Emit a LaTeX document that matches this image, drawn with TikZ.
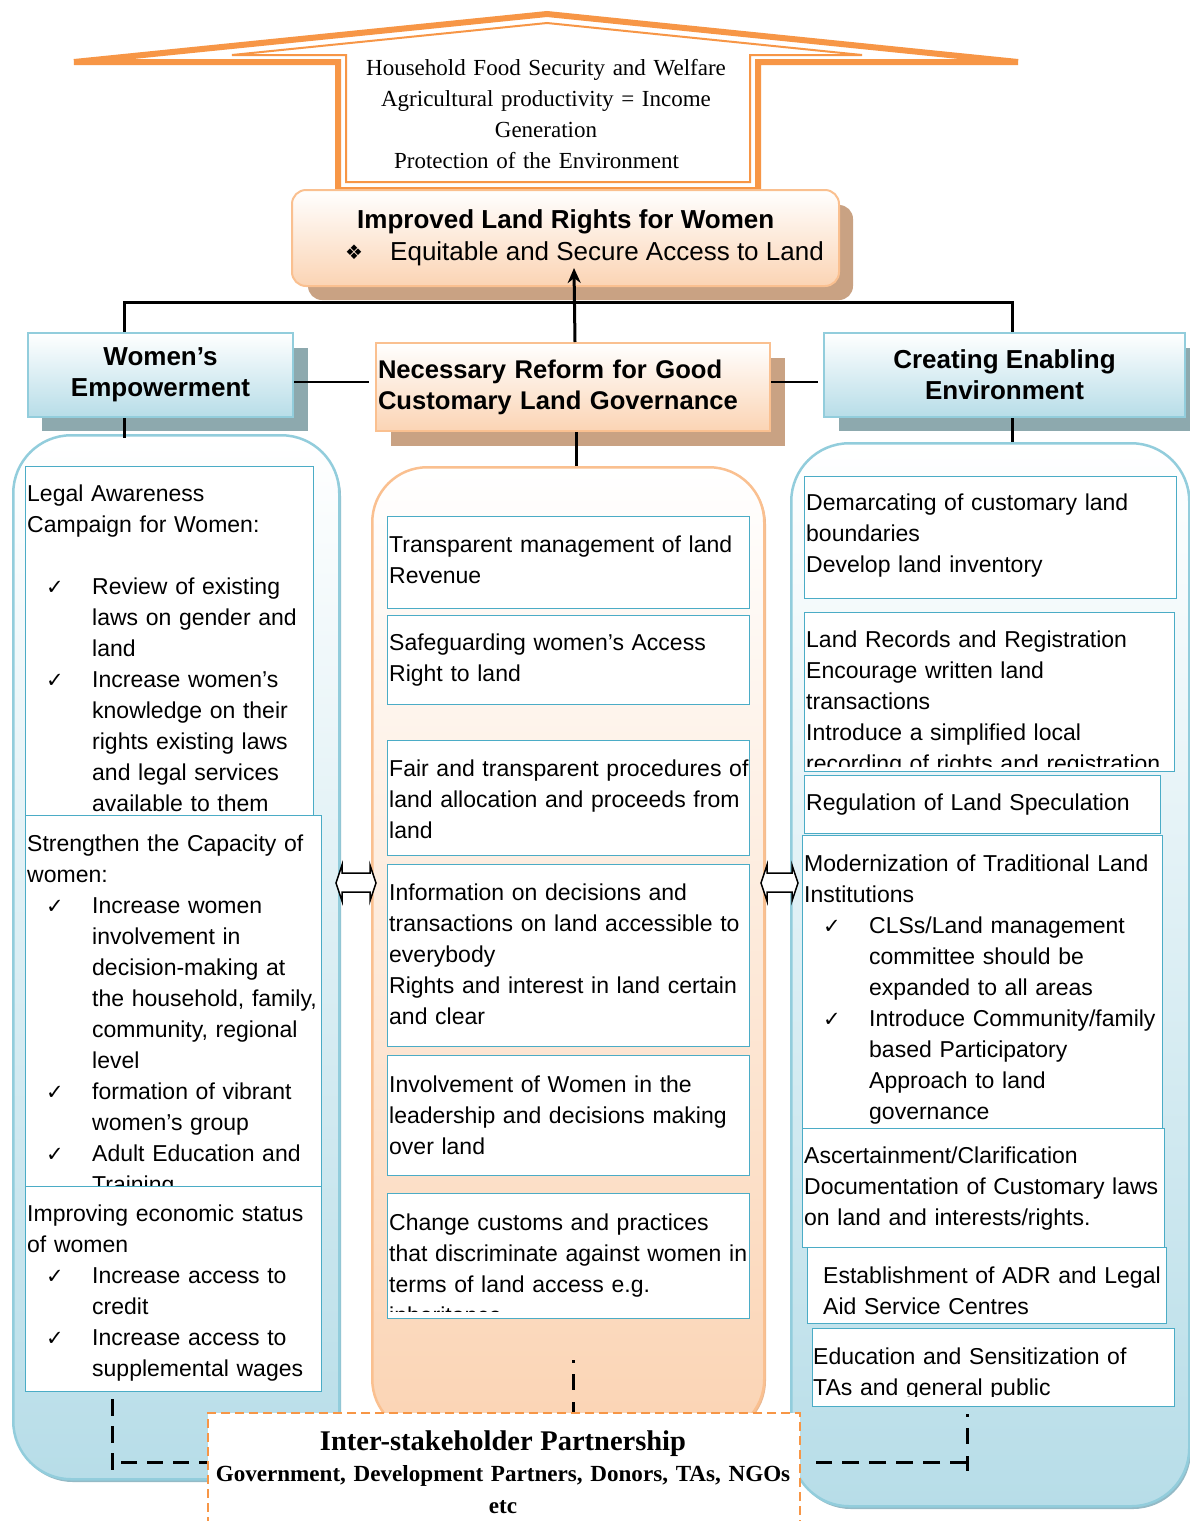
\documentclass[tikz,border=0pt]{standalone}
\usepackage{fontspec}
\setmainfont{Liberation Sans}
\newfontfamily\tnr{Liberation Serif}
\newfontfamily\djv{DejaVu Sans}
\usetikzlibrary{arrows.meta}
\definecolor{roofc}{HTML}{F79646}
\definecolor{peachb}{HTML}{FAC090}
\definecolor{peachf}{HTML}{FBD4B4}
\definecolor{blueb}{HTML}{92CDDC}
\definecolor{bluef}{HTML}{B7DDE8}
\definecolor{iboxc}{HTML}{4BACC6}
\definecolor{bshadow}{HTML}{8DA9AE}
\definecolor{pshadow}{HTML}{C9A283}
\definecolor{colshb}{HTML}{94BAC6}
\definecolor{colshp}{HTML}{E8B893}
\newcommand\ck{\hspace*{19pt}\makebox[46pt][l]{\djv\fontsize{21}{31}\selectfont ✓}}
\newcommand\ind{\hspace*{65pt}}
\newcommand\textbx[9]{%
  \node[ibox, minimum width=#4pt-#2pt, minimum height=#5pt-#3pt, anchor=north west] (#1) at (#2,#3) {};
  \begin{scope}
    \clip (#2,#3) rectangle (#4,#6);
    \node[btxt] (#1t) at (#7,#8) {#9};
  \end{scope}}
\begin{document}
\begin{tikzpicture}[x=1pt,y=-1pt,
  ibox/.style={draw=iboxc, line width=1.3pt, fill=white, inner sep=0pt},
  btxt/.style={anchor=base west, inner sep=0pt, text width=420pt, align=left, font=\fontsize{23}{31}\selectfont},
  hdrb/.style={draw=blueb, line width=2pt, top color=white, bottom color=bluef, inner sep=0pt, align=center, font=\bfseries\fontsize{26}{31}\selectfont},
  hdrp/.style={draw=peachb, line width=2pt, top color=white, bottom color=peachf, inner sep=0pt},
  colb/.style={draw=blueb, line width=2.5pt, top color=white, bottom color=bluef, rounded corners=58pt, inner sep=0pt},
  colp/.style={draw=peachb, line width=2.5pt, top color=white, bottom color=peachf, rounded corners=55pt, inner sep=0pt},
  conn/.style={line width=3pt, black},
  thinc/.style={line width=1.5pt, black},
  dsh/.style={line width=3pt, black, dash pattern=on 17pt off 10pt},
  dbl/.style={draw=black, fill=white, line width=1.5pt, line join=miter},
  pbox/.style={draw=roofc, line width=2pt, dash pattern=on 9pt off 5pt, fill=white, inner sep=0pt},
  plain/.style={anchor=base west, inner sep=0pt}
]
\useasboundingbox (0,0) rectangle (1190,1521);
\clip (0,0) rectangle (1190,1521);
\fill[white] (0,0) rectangle (1190,1521);

% ---------- roof ----------
\draw[roofc, line width=6pt, line join=miter] (74,62) -- (338,62) -- (338,190) -- (758,190) -- (758,62) -- (1018,62) -- (547,14) -- cycle;
\draw[roofc, line width=2pt] (232,55) -- (346,55) -- (346,182) -- (750,182) -- (750,55) -- (862,55) -- (547,23) -- cycle;
\node[anchor=base, inner sep=0pt, text width=440pt, align=center, font=\tnr\fontsize{23}{31}\selectfont] (RT) at (546,75)
  {Household Food Security and Welfare\\Agricultural productivity = Income\\Generation\\Protection of the Environment\hspace*{19pt}\mbox{}};

% ---------- improved land rights ----------
\fill[pshadow, rounded corners=14pt] (308,205) rectangle (853,300);
\node[hdrp, rounded corners=14pt, minimum width=547pt, minimum height=96pt, anchor=north west] (IL) at (291,189) {};
\node[plain, font=\bfseries\fontsize{26}{31}\selectfont] (ILa) at (357,228) {Improved Land Rights for Women};
\node[plain, font=\djv\fontsize{20}{31}\selectfont] (ILb) at (345,259) {❖};
\node[plain, font=\fontsize{26}{31}\selectfont] (ILc) at (390,260) {Equitable and Secure Access to Land};

% ---------- columns ----------
\fill[colshb, rounded corners=58pt] (15,438) rectangle (341,1482);
\node[colb, minimum width=326pt, minimum height=1044pt, anchor=north west] (LC) at (12,434) {};
\fill[colshp, rounded corners=55pt] (374,469) rectangle (766,1436);
\node[colp, minimum width=392pt, minimum height=967pt, anchor=north west] (MC) at (371,466) {};
\fill[colshb, rounded corners=58pt] (793,446) rectangle (1191,1509);
\node[colb, minimum width=398pt, minimum height=1063pt, anchor=north west] (RC) at (790,442) {};

% ---------- headers ----------
\fill[bshadow] (42,348) rectangle (308,431);
\node[hdrb, minimum width=265pt, minimum height=84pt, anchor=north west] (WE) at (27,332) {Women’s\\Empowerment};
\fill[bshadow] (839,348) rectangle (1190,431);
\node[hdrb, minimum width=361pt, minimum height=84pt, anchor=north west] (CE) at (823,332) {Creating Enabling\\Environment};
\fill[pshadow] (391,358) rectangle (785,446);
\node[hdrp, minimum width=394pt, minimum height=88pt, anchor=north west, text width=390pt, align=left,
  font=\bfseries\fontsize{25.6}{31}\selectfont] (NR) at (375,342) {Necessary Reform for Good\\Customary Land Governance};

% ---------- connectors ----------
\coordinate (tl) at (124,302);
\coordinate (tr) at (1012,302);
\coordinate (mx) at (576,0);
\coordinate (h) at (0,382);
\coordinate (ILarr) at (574,268);
\draw[conn] (WE.north -| tl) -- (tl) -- (tr) -- (CE.north -| tr);
\draw[conn, -{Stealth[length=15pt,width=13pt]}] ([xshift=2pt]NR.north) -- (ILarr);
\draw[thinc] (WE.east |- h) -- ([xshift=-6pt]NR.west |- h);
\draw[thinc] (NR.east |- h) -- ([xshift=-5pt]CE.west |- h);
\draw[conn] (WE.south -| tl) -- ([yshift=-4pt]LC.north -| tl);
\draw[conn] (NR.south -| mx) -- (MC.north -| mx);
\draw[conn] (CE.south -| tr) -- (RC.north -| tr);

% ---------- left column boxes ----------
\textbx{La}{25}{466}{313}{815}{815}{27}{501}{Legal Awareness\\
Campaign for Women:\\[31pt]
\ck Review of existing\\
\ind laws on gender and\\
\ind land\\
\ck Increase women’s\\
\ind knowledge on their\\
\ind rights existing laws\\
\ind and legal services\\
\ind available to them}
\textbx{Lb}{25}{815}{321}{1186}{1186}{27}{851}{Strengthen the Capacity of\\
women:\\
\ck Increase women\\
\ind involvement in\\
\ind decision-making at\\
\ind the household, family,\\
\ind community, regional\\
\ind level\\
\ck formation of vibrant\\
\ind women’s group\\
\ck Adult Education and\\
\ind Training}
\textbx{Lc}{25}{1186}{321}{1391}{1391}{27}{1221}{Improving economic status\\
of women\\
\ck Increase access to\\
\ind credit\\
\ck Increase access to\\
\ind supplemental wages}

% ---------- middle column boxes ----------
\textbx{Ma}{387}{516}{749}{608}{608}{389}{552}{Transparent management of land\\Revenue}
\textbx{Mb}{387}{615}{749}{704}{704}{389}{650}{Safeguarding women’s Access\\Right to land}
\textbx{Mc}{387}{740}{749}{855}{855}{389}{776}{Fair and transparent procedures of\\land allocation and proceeds from\\land}
\textbx{Md}{387}{864}{749}{1046}{1046}{389}{900}{Information on decisions and\\transactions on land accessible to\\everybody\\Rights and interest in land certain\\and clear}
\textbx{Me}{387}{1055}{749}{1175}{1175}{389}{1092}{Involvement of Women in the\\leadership and decisions making\\over land}
\textbx{Mf}{387}{1193}{749}{1318}{1311}{389}{1230}{Change customs and practices\\that discriminate against women in\\terms of land access e.g.\\inheritance}

% ---------- right column boxes ----------
\textbx{Ra}{804}{476}{1176}{598}{598}{806}{510}{Demarcating of customary land\\boundaries\\Develop land inventory}
\textbx{Rb}{804}{612}{1174}{771}{766}{806}{647}{Land Records and Registration\\Encourage written land\\transactions\\Introduce a simplified local\\recording of rights and registration}
\textbx{Rc}{804}{775}{1160}{833}{833}{806}{810}{Regulation of Land Speculation}
\textbx{Rd}{802}{835}{1162}{1128}{1128}{804}{871}{Modernization of Traditional Land\\
Institutions\\
\ck CLSs/Land management\\
\ind committee should be\\
\ind expanded to all areas\\
\ck Introduce Community/family\\
\ind based Participatory\\
\ind Approach to land\\
\ind governance}
\textbx{Re}{802}{1128}{1164}{1247}{1247}{804}{1163}{Ascertainment/Clarification\\Documentation of Customary laws\\on land and interests/rights.}
\textbx{Rf}{807}{1247}{1166}{1323}{1316}{823}{1283}{Establishment of ADR and Legal\\Aid Service Centres}
\textbx{Rg}{812}{1328}{1174}{1406}{1396}{813}{1364}{Education and Sensitization of\\TAs and general public}

% ---------- double arrows ----------
\draw[dbl] (336,883) -- (342,865) -- (342,873) -- (370,873) -- (370,865) -- (376,883) -- (370,901) -- (370,892) -- (342,892) -- (342,901) -- cycle;
\draw[dbl] (761,883) -- (767,865) -- (767,873) -- (792,873) -- (792,865) -- (798,883) -- (792,901) -- (792,892) -- (767,892) -- (767,901) -- cycle;

% ---------- partnership ----------
\coordinate (dl) at (112,1462);
\coordinate (dr) at (967,1462);
\coordinate (mtop) at (573,1360);
\draw[dsh] ([yshift=-7pt]Lc.south -| dl) -- ++(0,72);
\draw[dsh, dash pattern=on 16pt off 10pt] ([xshift=9pt]dl) -- (207,1462);
\draw[dsh, dash pattern=on 3pt off 11pt on 16pt off 12pt on 16pt off 12pt] (mtop) -- (573,1416);
\draw[dsh, dash pattern=on 3pt off 11pt on 16pt off 12pt on 16pt off 12pt] ([yshift=-7pt]Rg.south -| dr) -- (967,1471);
\draw[dsh, dash pattern=on 17pt off 10pt] (dr) -- (816,1462);
\node[pbox, minimum width=592pt, minimum height=140pt, anchor=north west] (PB) at (207,1412) {};
\node[anchor=base, inner sep=0pt, text width=590pt, align=center, font=\tnr\bfseries\fontsize{23.1}{31.5}\selectfont] (PBt) at (503,1450)
  {{\fontsize{28.5}{31.5}\selectfont Inter-stakeholder Partnership}\\Government, Development Partners, Donors, TAs, NGOs\\etc};
\end{tikzpicture}
\end{document}
